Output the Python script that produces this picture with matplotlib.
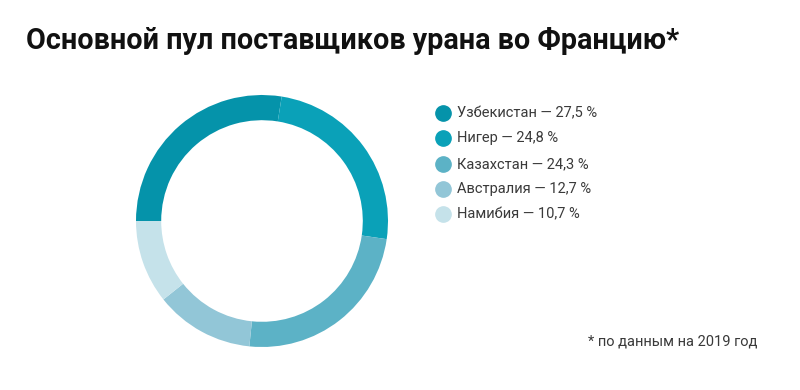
import matplotlib
matplotlib.use("Agg")
import matplotlib.pyplot as plt
from matplotlib.lines import Line2D

countries = ["Узбекистан", "Нигер", "Казахстан", "Австралия", "Намибия"]
shares = [27.5, 24.8, 24.3, 12.7, 10.7]
share_labels = ["27,5", "24,8", "24,3", "12,7", "10,7"]
colors = ["#0593aa", "#0aa1b8", "#5cb2c6", "#92c6d7", "#c5e2ea"]

title = "Основной пул поставщиков урана во Францию*"
footnote = "* по данным на 2019 год"

plt.rcParams["font.family"] = ["Roboto", "DejaVu Sans"]

fig = plt.figure(figsize=(8, 3.9), dpi=100)
fig.patch.set_facecolor("white")

fig.text(26 / 800, 1 - 49 / 390, title, fontsize=20.7, fontweight="bold",
         color="#111111", ha="left", va="baseline")

ax = fig.add_axes([136 / 800, 43 / 390, 252 / 800, 252 / 390])
ax.pie(shares, colors=colors, startangle=180, counterclock=False, radius=1,
       wedgeprops=dict(width=0.2, linewidth=0))
ax.set_xlim(-1, 1)
ax.set_ylim(-1, 1)
ax.set_aspect("equal")
ax.axis("off")

row_y = [113, 138, 164, 189, 214]
for name, label, color, y in zip(countries, share_labels, colors, row_y):
    fig.add_artist(Line2D([443 / 800], [1 - y / 390], marker="o", markersize=11,
                          color=color, linestyle="none", transform=fig.transFigure))
    fig.text(457 / 800, 1 - y / 390, f"{name} — {label} %", fontsize=10.5,
             color="#3a3a3a", ha="left", va="center")

fig.text(757 / 800, 1 - 342 / 390, footnote, fontsize=10.5, color="#3a3a3a",
         ha="right", va="center")

fig.savefig("out.png", dpi=100)
